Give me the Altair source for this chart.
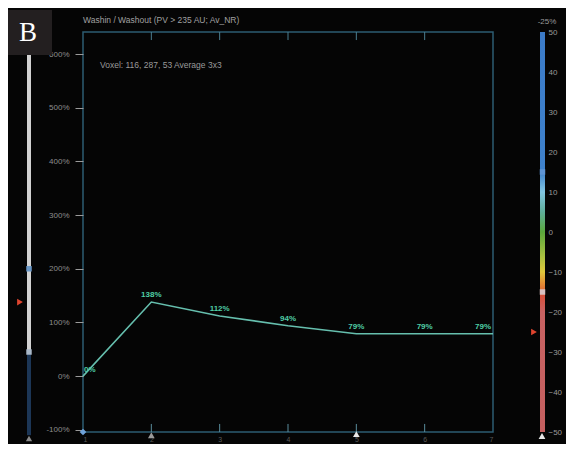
import altair as alt
import pandas as pd

# ---- data ----
time_points = [1, 2, 3, 4, 5, 6, 7]
washin_pct = [0, 138, 112, 94, 79, 79, 79]
pct_labels = ["0%", "138%", "112%", "94%", "79%", "79%", "79%"]
label_pos = ["first", "mid", "mid", "mid", "mid", "mid", "last"]
y_ticks = [-100, 0, 100, 200, 300, 400, 500, 600]
right_ticks = [50, 40, 30, 20, 10, 0, -10, -20, -30, -40, -50]
inner_ticks = [2, 3, 4, 5, 6]
title_text = "Washin / Washout (PV > 235 AU; Av_NR)"
voxel_text = "Voxel: 116, 287, 53 Average 3x3"
right_header = "-25%"
panel_letter = "B"

# left slider (in % units) and right colour bar (in its own units)
left_bar_white = [641, 45]
left_bar_dark = [45, -110]
left_knobs = [200, 45]
left_marker = 138
right_knobs = [15, -15]
right_marker = -25

Y_DOM = [-104, 641]
R_DOM = [-50, 50]

FONT = "Liberation Sans"
GRID = "#2d5c72"

df = pd.DataFrame({"t": time_points, "v": washin_pct, "lab": pct_labels, "pos": label_pos})

x_enc = alt.X(
    "t:Q",
    scale=alt.Scale(domain=[1, 7], nice=False, zero=False),
    axis=alt.Axis(values=time_points, ticks=False, domain=False, grid=False,
                  labelColor="#5a5a5a", labelFontSize=7, labelPadding=3,
                  labelFont=FONT, title=None, format="d"),
)
y_scale = alt.Scale(domain=Y_DOM, nice=False, zero=False)
y_axis = alt.Axis(values=y_ticks, labelExpr="datum.value + '%'", grid=False,
                  domain=False, ticks=True, tickSize=8, tickColor="#9a9a9a",
                  tickWidth=1, labelPadding=6, labelColor="#8e8e8e",
                  labelFontSize=8, labelFont=FONT, title=None)


def Y(field):
    return alt.Y(field, scale=y_scale, axis=y_axis)


line = alt.Chart(df).mark_line(color="#66bfae", strokeWidth=1.6).encode(x=x_enc, y=Y("v:Q"))

lab_mid = alt.Chart(df).transform_filter("datum.pos == 'mid'").mark_text(
    color="#50cfa6", fontSize=8, fontWeight="bold", font=FONT, dy=-7, baseline="middle"
).encode(x=x_enc, y=Y("v:Q"), text="lab:N")
lab_first = alt.Chart(df).transform_filter("datum.pos == 'first'").mark_text(
    color="#50cfa6", fontSize=8, fontWeight="bold", font=FONT, dy=-6, dx=1,
    align="left", baseline="middle"
).encode(x=x_enc, y=Y("v:Q"), text="lab:N")
lab_last = alt.Chart(df).transform_filter("datum.pos == 'last'").mark_text(
    color="#50cfa6", fontSize=8, fontWeight="bold", font=FONT, dy=-7, dx=-2,
    align="right", baseline="middle"
).encode(x=x_enc, y=Y("v:Q"), text="lab:N")

# inner ticks on top and bottom frame
tick_df = pd.DataFrame({"t": inner_ticks, "top": [Y_DOM[1]] * 5, "top2": [Y_DOM[1] - 15] * 5,
                        "bot": [Y_DOM[0]] * 5, "bot2": [Y_DOM[0] + 15] * 5})
top_ticks = alt.Chart(tick_df).mark_rule(color="#4b7e90", strokeWidth=1).encode(
    x=x_enc, y=Y("top:Q"), y2="top2:Q")
bot_ticks = alt.Chart(tick_df).mark_rule(color="#5a8c9c", strokeWidth=1).encode(
    x=x_enc, y=Y("bot:Q"), y2="bot2:Q")

# bottom slider markers
bm_df = pd.DataFrame({"t": [1, 2, 5], "v": [-104, -110, -108],
                      "shape": ["diamond", "triangle-up", "triangle-up"],
                      "c": ["#6fa2d8", "#9a9a9a", "#e8e8e8"]})
bottom_marks = alt.Chart(bm_df).mark_point(filled=True, size=45, opacity=1).encode(
    x=x_enc, y=Y("v:Q"), shape=alt.Shape("shape:N", scale=None),
    color=alt.Color("c:N", scale=None))

# left slider bar
lw_df = pd.DataFrame({"v": [left_bar_white[0]], "v2": [left_bar_white[1]]})
ld_df = pd.DataFrame({"v": [left_bar_dark[0]], "v2": [left_bar_dark[1]]})
left_white = alt.Chart(lw_df).mark_rule(color="#d2d2d2", strokeWidth=4).encode(
    x=alt.value(-54), y=Y("v:Q"), y2="v2:Q")
left_dark = alt.Chart(ld_df).mark_rule(color="#1c3656", strokeWidth=4).encode(
    x=alt.value(-54), y=Y("v:Q"), y2="v2:Q")
lk_df = pd.DataFrame({"v": left_knobs, "c": ["#6a98c8", "#a9b8c8"]})
left_knob = alt.Chart(lk_df).mark_square(size=30, opacity=1).encode(
    x=alt.value(-54), y=Y("v:Q"), color=alt.Color("c:N", scale=None))
lm_df = pd.DataFrame({"v": [left_marker]})
left_tri = alt.Chart(lm_df).mark_point(shape="triangle-right", filled=True, size=45,
                                       color="#e0452f", opacity=1).encode(
    x=alt.value(-63), y=Y("v:Q"))
lb_df = pd.DataFrame({"v": [-116]})
left_bottom_tri = alt.Chart(lb_df).mark_point(shape="triangle-up", filled=True, size=40,
                                              color="#8a8a8a", opacity=1).encode(
    x=alt.value(-54), y=Y("v:Q"))

one = pd.DataFrame({"k": [0]})
title_mark = alt.Chart(one).mark_text(text=title_text, color="#a0a0a0", fontSize=8.5,
                                      font=FONT, align="left", baseline="middle").encode(
    x=alt.value(0), y=alt.value(-12))
voxel_mark = alt.Chart(one).mark_text(text=voxel_text, color="#9a9a9a", fontSize=8.5,
                                      font=FONT, align="left", baseline="middle").encode(
    x=alt.value(17), y=alt.value(33))
header_mark = alt.Chart(one).mark_text(text=right_header, color="#9a9a9a", fontSize=8,
                                       font=FONT, align="center", baseline="middle").encode(
    x=alt.value(464), y=alt.value(-10))
box = alt.Chart(one).mark_rect(color="#231f20").encode(
    x=alt.value(-77), x2=alt.value(-31), y=alt.value(-22), y2=alt.value(23))
letter = alt.Chart(one).mark_text(text=panel_letter, color="#ffffff", fontSize=27,
                                  font="Liberation Serif", align="center", baseline="middle").encode(
    x=alt.value(-55), y=alt.value(1))

main = alt.layer(top_ticks, bot_ticks, line, lab_mid, lab_first, lab_last,
                 left_white, left_dark, left_knob, left_tri, left_bottom_tri,
                 bottom_marks, title_mark, voxel_mark, header_mark, box, letter)

# ---- right colour bar (own scale) ----
r_scale = alt.Scale(domain=R_DOM, nice=False, zero=False)
r_axis = alt.Axis(orient="right", values=right_ticks, ticks=False, tickSize=0, domain=False,
                  grid=False, labelPadding=0, offset=55, labelColor="#9a9a9a",
                  labelFontSize=8, labelFont=FONT, title=None, labelAlign="left")


def R(field):
    return alt.Y(field, scale=r_scale, axis=r_axis)


def off(v):
    return (R_DOM[1] - v) / (R_DOM[1] - R_DOM[0])


grad = alt.LinearGradient(
    gradient="linear", x1=0, x2=0, y1=0, y2=1,
    stops=[
        alt.GradientStop(offset=0, color="#3b7bc8"),
        alt.GradientStop(offset=off(15), color="#3f82cc"),
        alt.GradientStop(offset=off(10), color="#82c6e2"),
        alt.GradientStop(offset=off(5), color="#5fae9a"),
        alt.GradientStop(offset=off(0), color="#5aa83c"),
        alt.GradientStop(offset=off(-6), color="#a8c040"),
        alt.GradientStop(offset=off(-10), color="#e0c83c"),
        alt.GradientStop(offset=off(-13), color="#e38a34"),
        alt.GradientStop(offset=off(-16), color="#d6503c"),
        alt.GradientStop(offset=off(-20), color="#c86262"),
        alt.GradientStop(offset=1, color="#c46060"),
    ],
)
rb_df = pd.DataFrame({"a": [R_DOM[1]], "b": [R_DOM[0]]})
right_bar = alt.Chart(rb_df).mark_rect(color=grad).encode(
    x=alt.value(457), x2=alt.value(462), y=R("a:Q"), y2="b:Q")
rk_df = pd.DataFrame({"a": right_knobs, "c": ["#5f96d6", "#d8c0c0"]})
right_knob = alt.Chart(rk_df).mark_square(size=30, opacity=1).encode(
    x=alt.value(459.5), y=R("a:Q"), color=alt.Color("c:N", scale=None))
rm_df = pd.DataFrame({"a": [right_marker]})
right_tri = alt.Chart(rm_df).mark_point(shape="triangle-right", filled=True, size=45,
                                        color="#e0452f", opacity=1).encode(
    x=alt.value(451), y=R("a:Q"))
rbt_df = pd.DataFrame({"a": [-51]})
right_bottom_tri = alt.Chart(rbt_df).mark_point(shape="triangle-up", filled=True, size=45,
                                                color="#e8e8e8", opacity=1).encode(
    x=alt.value(459), y=R("a:Q"))

right = alt.layer(right_bar, right_knob, right_tri, right_bottom_tri)

chart = alt.layer(main, right).resolve_scale(y="independent").properties(
    width=410, height=400,
    padding={"left": 75, "top": 24, "right": 73, "bottom": 12},
    autosize=alt.AutoSizeParams(type="none"),
    background="#050505",
).configure_view(stroke=GRID, strokeWidth=1.5)

chart.save("out.html", embed_options={"renderer": "svg", "actions": False})
